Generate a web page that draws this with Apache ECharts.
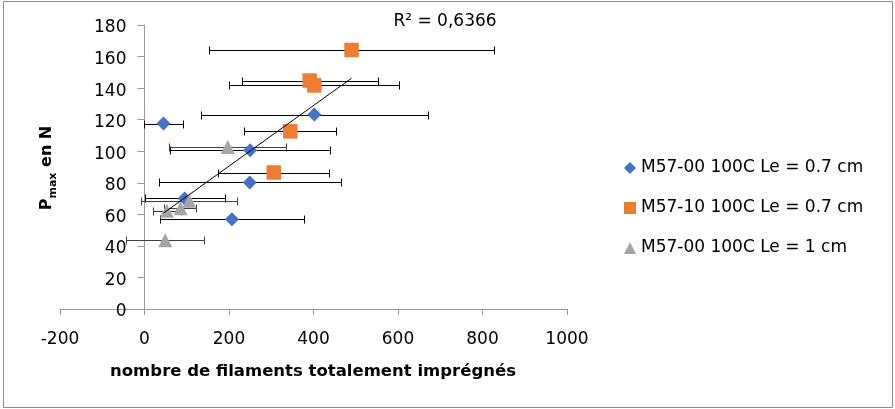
<!DOCTYPE html>
<html>
<head>
<meta charset="utf-8">
<script src="https://cdn.jsdelivr.net/npm/echarts@6/dist/echarts.min.js"></script>
<style>
  html, body { margin: 0; padding: 0; background: #fff; }
  #chart { width: 895px; height: 409px; }
</style>
</head>
<body>
<div id="chart"></div>
<script>
// ---- Data ----
const seriesNames = ['M57-00 100C Le = 0.7 cm', 'M57-10 100C Le = 0.7 cm', 'M57-00 100C Le = 1 cm'];

const blueX   = [45, 402, 250, 249, 95, 207];
const blueY   = [117.5, 123.2, 100.6, 80.2, 70.1, 56.9];
const blueErr = [47, 269, 190, 215, 95, 171];

const orangeX   = [490, 391, 402, 345, 306];
const orangeY   = [164.2, 144.8, 141.7, 112.6, 86.5];
const orangeErr = [338, 161, 201, 109, 131];

const grayX   = [197, 106, 85, 53, 49];
const grayY   = [102.7, 68.6, 63.8, 62.3, 43.6];
const grayErr = [139, 114, 38, 33, 93];

const xTicks = [-200, 0, 200, 400, 600, 800, 1000];
const yTicks = [0, 20, 40, 60, 80, 100, 120, 140, 160, 180];
const r2Label = 'R² = 0,6366';

// ---- helpers ----
const pts = (xs, ys) => xs.map((x, i) => [x, ys[i]]);
const errPts = (xs, ys, es) => xs.map((x, i) => [x, ys[i], es[i]]);

// linear regression over all points (trendline)
const allX = blueX.concat(orangeX, grayX);
const allY = blueY.concat(orangeY, grayY);
const n = allX.length;
const mx = allX.reduce((a, b) => a + b, 0) / n;
const my = allY.reduce((a, b) => a + b, 0) / n;
let sxy = 0, sxx = 0;
for (let i = 0; i < n; i++) { sxy += (allX[i] - mx) * (allY[i] - my); sxx += (allX[i] - mx) ** 2; }
const slope = sxy / sxx, icpt = my - slope * mx;
const xMin = Math.min(...allX), xMax = Math.max(...allX);
const trend = [[xMin, icpt + slope * xMin], [xMax, icpt + slope * xMax]];

const FONT = 'DejaVu Sans';
const GRID_LEFT = 60;

function errSeries(data, color) {
  return {
    type: 'custom',
    silent: true,
    z: 1,
    data: data,
    encode: { x: 0, y: 1 },
    renderItem: function (params, api) {
      const x = api.value(0), y = api.value(1), e = api.value(2);
      const a = api.coord([x - e, y]);
      const b = api.coord([x + e, y]);
      const yy = Math.round(a[1]) + 0.5;
      const xa = Math.round(a[0]) + 0.5, xb = Math.round(b[0]) + 0.5;
      const h = 4;
      const st = { stroke: color, lineWidth: 1 };
      return {
        type: 'group',
        children: [
          { type: 'line', shape: { x1: xa, y1: yy, x2: xb, y2: yy }, style: st },
          { type: 'line', shape: { x1: xa, y1: yy - h, x2: xa, y2: yy + h }, style: st },
          { type: 'line', shape: { x1: xb, y1: yy - h, x2: xb, y2: yy + h }, style: st }
        ]
      };
    }
  };
}

const chart = echarts.init(document.getElementById('chart'), null, { renderer: 'canvas' });
chart.setOption({
  animation: false,
  backgroundColor: '#fff',
  textStyle: { fontFamily: FONT },
  grid: { left: GRID_LEFT, right: 328, top: 25, bottom: 100, containLabel: false },
  xAxis: {
    type: 'value', min: xTicks[0], max: xTicks[xTicks.length - 1], interval: 200,
    splitLine: { show: false },
    axisLine: { lineStyle: { color: '#999', width: 1 } },
    axisTick: { show: true, length: 6, lineStyle: { color: '#999' } },
    axisLabel: { color: '#000', fontSize: 17, fontFamily: FONT, margin: 22,
                 formatter: v => String(v) }
  },
  yAxis: {
    type: 'value', min: yTicks[0], max: yTicks[yTicks.length - 1], interval: 20,
    splitLine: { show: false },
    axisLine: { show: true, onZero: false, lineStyle: { color: '#999', width: 1 } },
    axisTick: { show: true, length: 7, lineStyle: { color: '#999' } },
    axisLabel: { color: '#000', fontSize: 17, fontFamily: FONT, margin: 18,
                 formatter: v => '{v|' + v + '}',
                 rich: { v: { fontSize: 17, fontFamily: FONT, color: '#000', padding: [6, 0, 0, 0] } } }
  },
  legend: {
    data: seriesNames,
    orient: 'vertical',
    left: 619, top: 153,
    itemWidth: 12, itemHeight: 12, itemGap: 20,
    textStyle: { color: '#000', fontSize: 17, fontFamily: FONT, lineHeight: 20 }
  },
  graphic: [
    { type: 'rect', silent: true, z: 100,
      shape: { x: 3.5, y: 1.5, width: 889, height: 406 },
      style: { fill: 'none', stroke: '#8c8c8c', lineWidth: 1 } },
    { type: 'text', x: 445, y: 22, z: 100,
      style: { text: r2Label, fill: '#000', font: '17px "DejaVu Sans"', align: 'center', verticalAlign: 'middle' } },
    { type: 'text', x: 313, y: 372, z: 100,
      style: { text: 'nombre de filaments totalement imprégnés', fill: '#000',
               font: 'bold 16.5px "DejaVu Sans"', align: 'center', verticalAlign: 'middle' } },
    { type: 'text', x: 47, y: 168, rotation: Math.PI / 2, z: 100,
      style: {
        text: '{a|P}{b|max}{a| en N}', align: 'center', verticalAlign: 'middle',
        rich: {
          a: { fontFamily: FONT, fontWeight: 'bold', fontSize: 16, fill: '#000', color: '#000', lineHeight: 24, verticalAlign: 'middle' },
          b: { fontFamily: FONT, fontWeight: 'bold', fontSize: 11, fill: '#000', color: '#000', lineHeight: 24, verticalAlign: 'bottom' }
        }
      } }
  ],
  series: [
    errSeries(errPts(blueX, blueY, blueErr), '#000'),
    errSeries(errPts(orangeX, orangeY, orangeErr), '#000'),
    errSeries(errPts(grayX, grayY, grayErr), '#404040'),
    { name: seriesNames[0], type: 'scatter', z: 2, symbol: 'diamond', symbolSize: 14,
      itemStyle: { color: '#4472C4', opacity: 1 }, data: pts(blueX, blueY) },
    { name: seriesNames[1], type: 'scatter', z: 2, symbol: 'rect', symbolSize: 14.5,
      itemStyle: { color: '#ED7D31', opacity: 1 }, data: pts(orangeX, orangeY) },
    { name: seriesNames[2], type: 'scatter', z: 2, symbol: 'triangle', symbolSize: 14,
      itemStyle: { color: '#A5A5A5', opacity: 1 }, data: pts(grayX, grayY) },
    { type: 'line', z: 3, silent: true, symbol: 'none', data: trend,
      lineStyle: { color: '#000', width: 1 } }
  ]
});
// place the Y axis (line, ticks, labels) at x = 0 of the X scale, like the reference
const zeroPx = chart.convertToPixel({ xAxisIndex: 0 }, 0);
chart.setOption({ yAxis: { offset: -(zeroPx - GRID_LEFT) } });
</script>
</body>
</html>
